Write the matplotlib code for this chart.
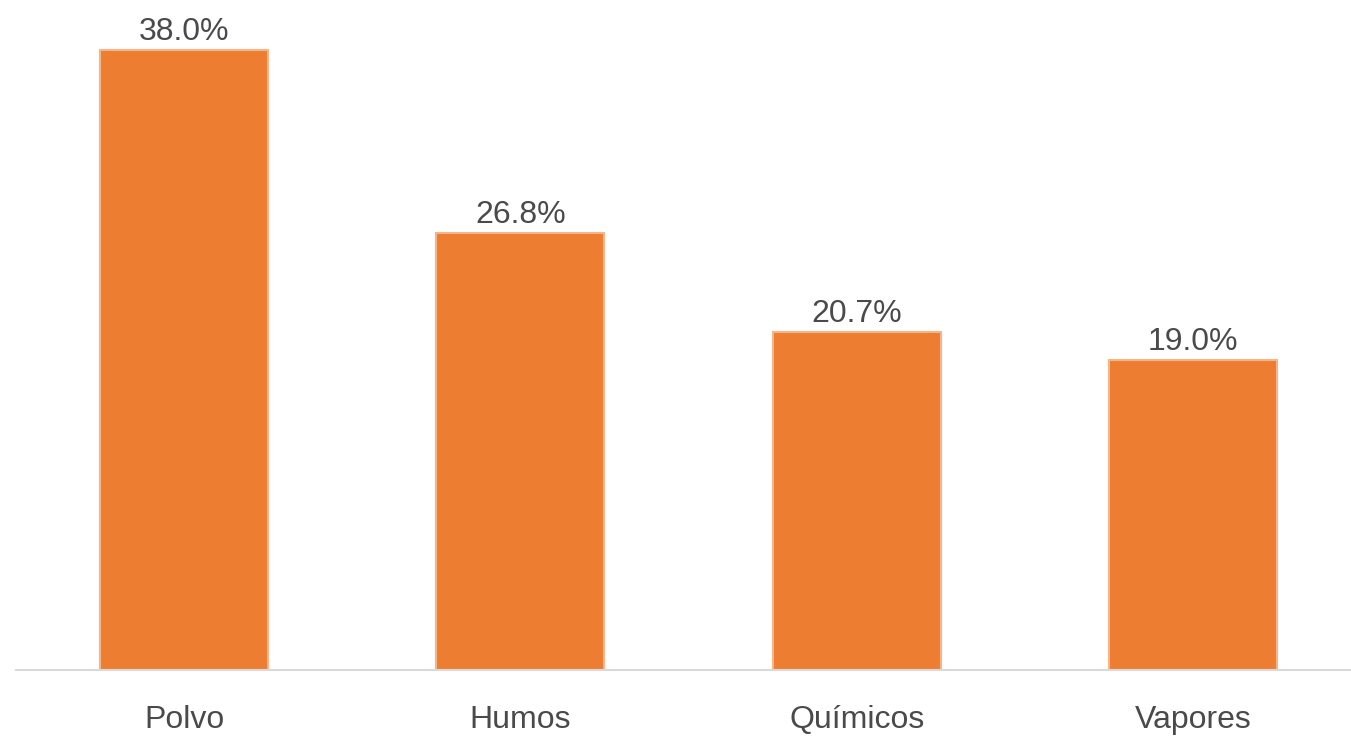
import matplotlib
matplotlib.use("Agg")
import matplotlib.pyplot as plt

categories = ["Polvo", "Humos", "Químicos", "Vapores"]
values = [38.0, 26.8, 20.7, 19.0]

BAR_COLOR = "#ED7D31"
EDGE_COLOR = "#F6B48A"
TEXT_COLOR = "#4A4A4A"

plt.rcParams["font.family"] = ["Liberation Sans", "DejaVu Sans"]

fig = plt.figure(figsize=(13.51, 7.39), dpi=100)
ax = fig.add_axes([16 / 1351, 1 - 670 / 739, 1 - 16 / 1351, 670 / 739])

x = list(range(len(categories)))
bars = ax.bar(x, values, width=0.5, color=BAR_COLOR, edgecolor=EDGE_COLOR, linewidth=1.5, zorder=2)
ax.bar_label(bars, labels=[f"{v:.1f}%" for v in values], padding=2,
             fontsize=23, color=TEXT_COLOR)

ax.set_xlim(-0.5, 3.47)
ax.set_ylim(0, 41.06)
ax.set_xticks(x)
ax.set_xticklabels(categories, fontsize=23, color=TEXT_COLOR)
ax.tick_params(axis="x", length=0, pad=25)
ax.set_yticks([])

for side in ["top", "right", "left"]:
    ax.spines[side].set_visible(False)
ax.spines["bottom"].set_color("#D9D9D9")
ax.spines["bottom"].set_linewidth(1.5)
ax.spines["bottom"].set_zorder(3)

fig.savefig("out.png", dpi=100)
